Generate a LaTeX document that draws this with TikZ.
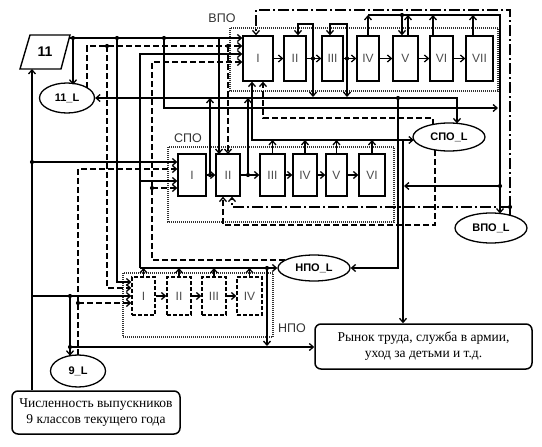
\documentclass[tikz,border=0pt]{standalone}
\usepackage{fontspec}
\setmainfont{Liberation Serif}
\setsansfont{Liberation Sans}
\usetikzlibrary{shapes.geometric,arrows.meta}
\begin{document}
\begin{tikzpicture}[x=1pt,y=-1pt,
  ln/.style={line width=1.3pt},
  arr/.style={line width=1.3pt,-{Straight Barb[length=4pt,width=7pt]}},
  dsh/.style={dash pattern=on 6pt off 3pt},
  ddsh/.style={dash pattern=on 11pt off 3pt on 2pt off 3pt},
  frame/.style={line width=1.1pt,dash pattern=on 1pt off 1pt,black!80},
  blk/.style={draw,line width=1.3pt,inner sep=0pt,font=\sffamily\fontsize{12}{14}\selectfont,text=black!70},
  vb/.style={blk,minimum height=45pt},
  sb/.style={blk,minimum height=42pt},
  nb/.style={blk,minimum height=38pt,dash pattern=on 4pt off 2pt},
  ell/.style={draw,ellipse,line width=1.3pt,inner sep=0pt,font=\sffamily\bfseries\fontsize{11}{13}\selectfont},
  rbox/.style={draw,rounded corners=6pt,line width=1.5pt,align=center,font=\fontsize{13.5}{16}\selectfont},
  grp/.style={font=\sffamily\fontsize{12.5}{14}\selectfont,text=black!80}
]
\useasboundingbox (0,0) rectangle (542,447);

% group frames
\draw[frame] (230,28) rectangle (498,91);
\draw[frame] (168,147) rectangle (394,222);
\draw[frame] (123,273) rectangle (273,337);
\node[grp] (lv) at (222,18) {ВПО};
\node[grp] (ls) at (188,138) {СПО};
\node[grp] (ln) at (292,328) {НПО};

% VPO boxes
\node[vb,minimum width=30pt] (v1) at (258,58.5) {I};
\node[vb,minimum width=22pt] (v2) at (295,58.5) {II};
\node[vb,minimum width=21pt] (v3) at (332.5,58.5) {III};
\node[vb,minimum width=22pt] (v4) at (368,58.5) {IV};
\node[vb,minimum width=25pt] (v5) at (405.5,58.5) {V};
\node[vb,minimum width=23pt] (v6) at (441.5,58.5) {VI};
\node[vb,minimum width=27pt] (v7) at (479.5,58.5) {VII};
% SPO boxes
\node[sb,minimum width=28pt] (s1) at (192,175) {I};
\node[sb,minimum width=24pt] (s2) at (228,175) {II};
\node[sb,minimum width=25pt] (s3) at (272.5,175) {III};
\node[sb,minimum width=24pt] (s4) at (305,175) {IV};
\node[sb,minimum width=21pt] (s5) at (336.5,175) {V};
\node[sb,minimum width=26pt] (s6) at (372,175) {VI};
% NPO boxes
\node[nb,minimum width=23pt] (n1) at (143.5,296) {I};
\node[nb,minimum width=24pt] (n2) at (179,296) {II};
\node[nb,minimum width=24pt] (n3) at (214,296) {III};
\node[nb,minimum width=25pt] (n4) at (249.5,296) {IV};

% ellipses
\node[ell,minimum width=55pt,minimum height=30pt] (L11) at (67,98) {11\_L};
\node[ell,minimum width=72pt,minimum height=28pt] (Lspo) at (449,137) {СПО\_L};
\node[ell,minimum width=72pt,minimum height=30pt] (Lvpo) at (491,228) {ВПО\_L};
\node[ell,minimum width=72pt,minimum height=26pt] (Lnpo) at (314,268) {НПО\_L};
\node[ell,minimum width=55pt,minimum height=32pt] (L9) at (78,371) {9\_L};

% parallelogram 11
\draw[line width=1.4pt] (30,35) -- (70,35) -- (61,69) -- (20,69) -- cycle;
\node[font=\sffamily\bfseries\fontsize{14}{16}\selectfont] (p11) at (45,52) {11};

% rounded boxes
\node[rbox,minimum width=168pt,minimum height=43pt] (b9) at (96,412.5) {Численность выпускников\\9 классов текущего года};
\node[rbox,minimum width=217pt,minimum height=45pt] (ry) at (423.5,346.5) {Рынок труда, служба в армии,\\уход за детьми и т.д.};

% ---- 11 main flow
\draw[arr] (69.2,38) -- (v1.west |- 0,38);
\draw[arr] (73,38) -- (73,84.7);
\draw[arr] (117,38) |- (n1.west |- 0,282);
\draw[arr] (164,38) |- (498,108);
\draw[arr] (219,38) -- (219,154);
% ---- 11_L dashed
\draw[arr,dsh] (87,87.7) |- (v1.west |- 0,46);
\draw[arr,dsh] (107,46) |- (n1.west |- 0,288);
\draw[arr,dsh] (228,46) -- (228,154);
% ---- NPO graduates
\draw[arr] (140,268) |- (v1.west |- 0,54);
\draw[arr] (140,181) -- (s1.west |- 0,181);
\draw[arr] (140,268) -- (Lnpo.west);
\foreach \n in {n1,n2,n3,n4} \draw[arr] (\n.north) -- (\n.north |- 0,268);
\draw[arr] (267,268) -- (267,346);
% ---- NPO_L dashed
\draw[arr,dsh] (285,260) -- (152,260) |- (v1.west |- 0,62);
\draw[arr,dsh] (152,188) -- (s1.west |- 0,188);
% ---- 9 classes
\draw[arr] (b9.north -| 32,0) -- (32,69);
\draw[arr] (32,162) -- (s1.west |- 0,162);
\draw[arr] (32,296) -- (n1.west |- 0,296);
\draw[arr] (70,296) -- (70,355.7);
\draw[arr] (70,347) -- (ry.west |- 0,347);
% ---- 9_L dashed
\draw[arr,dsh] (78,355) |- (s1.west |- 0,169);
\draw[arr,dsh] (78,303) -- (n1.west |- 0,303);
% ---- NPO internal
\draw[arr] (n1.east) -- (n2.west);
\draw[arr] (n2.east) -- (n3.west);
\draw[arr] (n3.east) -- (n4.west);
% ---- SPO internal
\draw[arr] (s1.east) -- (s2.west);
\draw[arr] (s2.east) -- (s3.west);
\draw[arr] (s3.east) -- (s4.west);
\draw[arr] (s4.east) -- (s5.west);
\draw[arr] (s5.east) -- (s6.west);
\draw[arr] (210,175) -- (210,98);
\draw[arr] (248,175) -- (248,98);
\foreach \n in {s3,s4,s5,s6} \draw[arr] (\n.north) -- (\n.north |- 0,140);
\draw[arr] (403,140) -- (413.8,140);
\draw[arr] (403,140) -| (v1.south -| 252,0);
\draw[arr] (403,140) -- (ry.north -| 403,0);
% ---- VPO internal
\draw[arr] (v1.east) -- (v2.west);
\draw[arr] (v2.east) -- (v3.west);
\draw[arr] (v3.east) -- (v4.west);
\draw[arr] (v4.east) -- (v5.west);
\draw[arr] (v5.east) -- (v6.west);
\draw[arr] (v6.east) -- (v7.west);
\draw[arr] (313,58.5) |- (298,24) -- (v2.north -| 298,0);
\draw[arr] (313,58.5) -- (313,97);
\draw[arr] (347,58.5) |- (330,24) -- (v3.north -| 330,0);
\draw[arr] (347,58.5) -- (347,97);
\draw[arr] (v4.north) -- (368,15);
\draw[arr] (v5.north -| 408,0) -- (408,15);
\draw[arr] (v6.north -| 433,0) -- (433,15);
\draw[arr] (v7.north -| 473,0) -- (473,15);
\draw[arr] (368,15) -- (500,15) -- (500,213.5);
\draw[arr] (402,15) -- (v5.north -| 402,0);
\draw[arr] (500,186) -- (404,186);
% ---- dropouts line
\draw[arr] (398,98) -- (L11.east);
\draw[arr] (398,98) -| (457,123.4);
\draw[arr] (398,98) |- (Lnpo.east);
% ---- SPO_L dashed
\draw[arr,dsh] (433,124.5) |- (263,118) -- (v1.south -| 263,0);
\draw[arr,dsh] (435,150) |- (223,225) -- (s2.south -| 223,0);
% ---- VPO_L dash-dot
\draw[ln,ddsh] (510,215.3) -- (510,207);
\draw[arr,ddsh] (510,207) -- (510,10) -- (256,10) -- (v1.north -| 256,0);
\draw[arr,ddsh] (510,207) -| (s2.south -| 232,0);

% junction dots
\foreach \p in {(73,38),(117,38),(164,38),(107,46),(228,46),(32,162),(78,303),(70,296),(70,347),(152,188),(210,175),(248,175),(267,268),(313,58.5),(347,58.5),(402,15),(500,186),(398,98),(510,207)}
  \fill \p circle (2.1pt);
\end{tikzpicture}
\end{document}
